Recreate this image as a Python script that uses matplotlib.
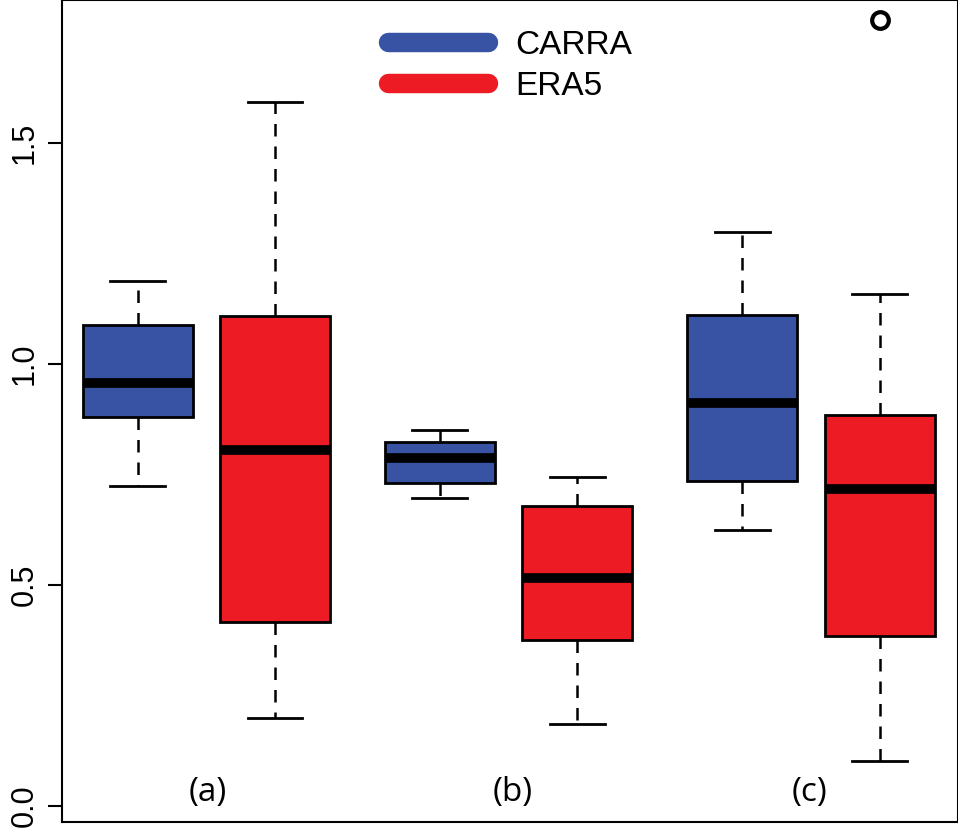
import matplotlib.pyplot as plt
from matplotlib.lines import Line2D

plt.rcParams['font.family'] = ['Liberation Sans', 'DejaVu Sans']

positions = [1, 2, 3.2, 4.2, 5.4, 6.4]
groups = ['CARRA', 'ERA5', 'CARRA', 'ERA5', 'CARRA', 'ERA5']
whislo = [0.724, 0.199, 0.697, 0.186, 0.624, 0.102]
q1 = [0.880, 0.416, 0.731, 0.376, 0.735, 0.385]
med = [0.957, 0.805, 0.787, 0.516, 0.912, 0.717]
q3 = [1.088, 1.109, 0.824, 0.679, 1.111, 0.885]
whishi = [1.188, 1.593, 0.851, 0.744, 1.299, 1.158]
fliers = [[], [], [], [], [], [1.778]]
panel_labels = ['(a)', '(b)', '(c)']
panel_x = [1.51, 3.73, 5.89]
colors = {'CARRA': '#3953A4', 'ERA5': '#ED1C24'}

stats = []
for i in range(len(positions)):
    stats.append(dict(whislo=whislo[i], q1=q1[i], med=med[i], q3=q3[i],
                      whishi=whishi[i], fliers=fliers[i]))

fig = plt.figure(figsize=(9.58, 8.31), dpi=100)
ax = fig.add_axes([62/958, 9/831, 896/958, 822/831])
bp = ax.bxp(stats, positions=positions, widths=0.8, patch_artist=True,
            boxprops=dict(linewidth=2, edgecolor='black'),
            medianprops=dict(color='black', linewidth=7, solid_capstyle='butt'),
            whiskerprops=dict(linestyle=(0, (5, 4)), linewidth=1.8),
            capprops=dict(linewidth=2),
            flierprops=dict(marker='o', markersize=12, markerfacecolor='white',
                            markeredgecolor='black', markeredgewidth=3))
for patch, g in zip(bp['boxes'], groups):
    patch.set_facecolor(colors[g])
for cap in bp['caps']:
    x = cap.get_xdata()
    c = (x[0] + x[1]) / 2
    cap.set_xdata([c - 0.2, c + 0.2])

for lab, x in zip(panel_labels, panel_x):
    ax.text(x, 0.03, lab, fontsize=24, ha='center', va='center',
            family=['Open Sans', 'DejaVu Sans'])

ax.set_xlim(0.45, 6.97)
ax.set_ylim(-0.036, 1.824)
ax.set_xticks([])
ax.set_yticks([0.0, 0.5, 1.0, 1.5])
ax.set_yticklabels(['0.0', '0.5', '1.0', '1.5'], rotation=90, va='center', fontsize=22)
ax.tick_params(axis='y', length=10, width=1.5, pad=6)
for s in ax.spines.values():
    s.set_linewidth(1.5)

handles = [Line2D([], [], color=colors['CARRA'], linewidth=14, solid_capstyle='round'),
           Line2D([], [], color=colors['ERA5'], linewidth=14, solid_capstyle='round')]
ax.legend(handles, ['CARRA', 'ERA5'], loc='upper center', bbox_to_anchor=(0.5, 1.0),
          frameon=False, fontsize=24, handlelength=3, labelspacing=0.3)

fig.savefig('out.png', dpi=100)
